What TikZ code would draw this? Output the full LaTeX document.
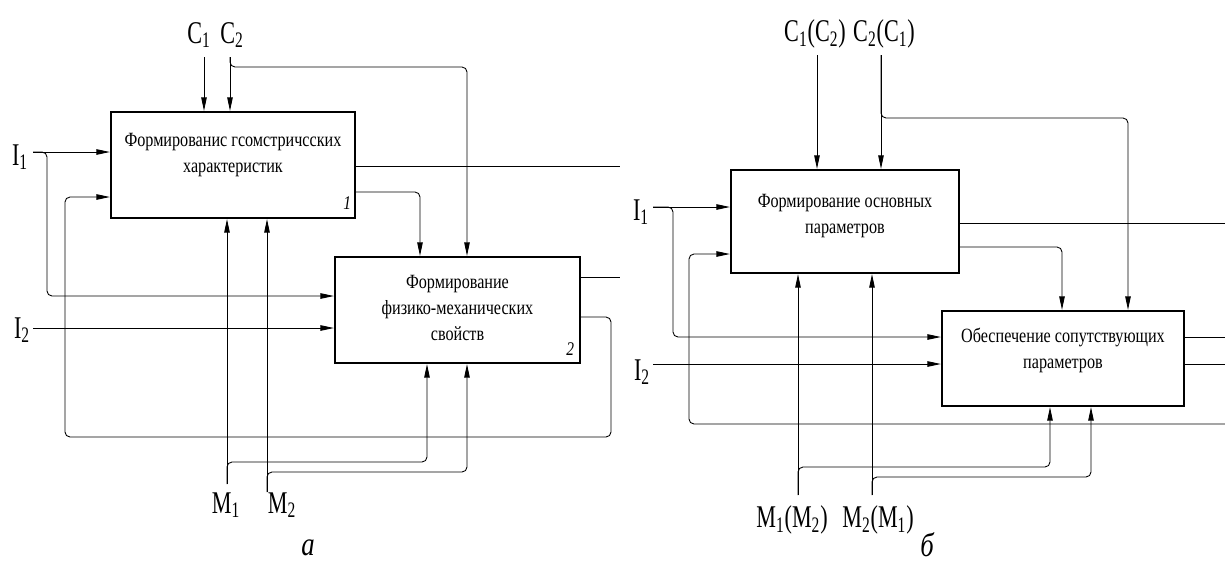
\documentclass[tikz,border=0pt]{standalone}
\usepackage{fontspec}
\setmainfont{Liberation Serif}[FakeStretch=0.8]
\newfontfamily\lblfont{Liberation Serif}[FakeStretch=0.7]
\usetikzlibrary{arrows.meta,calc}

\begin{document}
\begin{tikzpicture}[x=0.02cm,y=-0.02cm,
  blk/.style={draw=black,line width=1.3pt,inner sep=0pt},
  txt/.style={align=center,inner sep=0pt,font=\fontsize{11.5}{14.8}\selectfont},
  lbl/.style={inner sep=0pt,font=\lblfont\fontsize{18}{20}\selectfont},
  num/.style={inner sep=0pt,font=\itshape\fontsize{11}{12}\selectfont},
  figcap/.style={inner sep=0pt,font=\itshape\fontsize{19}{21}\selectfont},
  line/.style={draw=black,line width=0.5pt,rounded corners=0.1cm},
  arr/.style={-{Triangle[length=2.7mm,width=1.1mm]}}]
\useasboundingbox (0,0) rectangle (1225,566);

% a
\node[blk,minimum width=4.88cm,minimum height=2.12cm] (b1) at (233,165) {};
\node[txt] (t1) at ($(b1.center)+(0,-10)$) {Формированис гсомстричсских\\характеристик};
\node[num] (n1) at ($(b1.south east)+(-9,-16)$) {1};
\node[blk,minimum width=4.9cm,minimum height=2.12cm] (b2) at (457.5,310) {};
\node[txt] (t2) at ($(b2.center)+(0,-2)$) {Формирование\\физико-механических\\свойств};
\node[num] (n2) at ($(b2.south east)+(-11,-15)$) {2};

\node[lbl] (C1) at (199,35) {C\textsubscript{1}};
\node[lbl] (C2) at (232,35) {C\textsubscript{2}};
\node[lbl] (I1) at (20,157) {I\textsubscript{1}};
\node[lbl] (I2) at (22,330) {I\textsubscript{2}};
\node[lbl] (M1) at (226,505) {M\textsubscript{1}};
\node[lbl] (M2) at (282,505) {M\textsubscript{2}};
\node[figcap] (ca) at (308,548) {а};

\coordinate (c1) at (204,57);
\coordinate (c2) at (230,57);
\coordinate (i1) at (33,152);
\coordinate (i2) at (33,328);
\coordinate (m1) at (227,484);
\coordinate (m2) at (267,492);
\coordinate (o1) at (620,166);
\coordinate (o2) at (620,277);

\draw[line,arr] (c1) -- (c1 |- b1.north);
\draw[line,arr] (c2) -- (c2 |- b1.north);
\draw[line,arr] (c2) |- (467,67) -- (467,67 |- b2.north);
\draw[line,arr] (i1) -- (i1 -| b1.west);
\draw[line,arr] (i1) -| (47,296) -- (b2.west |- 47,296);
\draw[line] (b1.east |- o1) -- (o1);
\draw[line,arr] (b1.east |- 0,192) -| (b2.north -| 420,0);
\draw[line] (b2.east |- o2) -- (o2);
\draw[line,arr] (b2.east |- 0,317) -| (611,437) -| (65,197) -- (b1.west |- 0,197);
\draw[line,arr] (i2) -- (i2 -| b2.west);
\draw[line,arr] (m1) -- (m1 |- b1.south);
\draw[line,arr] (m1) |- (427,462) -- (427,462 |- b2.south);
\draw[line,arr] (m2) -- (m2 |- b1.south);
\draw[line,arr] (m2) |- (467,472) -- (467,472 |- b2.south);

% b
\node[blk,minimum width=4.56cm,minimum height=2.06cm] (bA) at (845,221.5) {};
\node[txt] (tA) at ($(bA.center)+(0,-5)$) {Формирование основных\\параметров};
\node[blk,minimum width=4.84cm,minimum height=1.9cm] (bB) at (1063,358.5) {};
\node[txt] (tB) at ($(bB.center)+(0,-8)$) {Обеспечение сопутствующих\\параметров};

\node[lbl] (C1r) at (815,34) {C\textsubscript{1}(C\textsubscript{2})};
\node[lbl] (C2r) at (884,34) {C\textsubscript{2}(C\textsubscript{1})};
\node[lbl] (I1r) at (641,212) {I\textsubscript{1}};
\node[lbl] (I2r) at (642,372) {I\textsubscript{2}};
\node[lbl] (M1r) at (792,520) {M\textsubscript{1}(M\textsubscript{2})};
\node[lbl] (M2r) at (878,520) {M\textsubscript{2}(M\textsubscript{1})};
\node[figcap] (cb) at (927,545) {б};

\coordinate (c1r) at (817,55);
\coordinate (c2r) at (881,55);
\coordinate (i1r) at (653,207);
\coordinate (i2r) at (653,364);
\coordinate (m1r) at (798,495);
\coordinate (m2r) at (872,495);
\coordinate (oA) at (1225,223);
\coordinate (oB1) at (1225,337);
\coordinate (oB2) at (1225,364);
\coordinate (fb) at (1225,424);

\draw[line,arr] (c1r) -- (c1r |- bA.north);
\draw[line,arr] (c2r) -- (c2r |- bA.north);
\draw[line,arr] (c2r) |- (1128,118) -- (1128,118 |- bB.north);
\draw[line,arr] (i1r) -- (i1r -| bA.west);
\draw[line,arr] (i1r) -| (673,337) -- (bB.west |- 673,337);
\draw[line] (bA.east |- oA) -- (oA);
\draw[line,arr] (bA.east |- 0,247) -| (bB.north -| 1062,0);
\draw[line,arr] (fb) -| (689,254) -- (bA.west |- 0,254);
\draw[line] (bB.east |- oB1) -- (oB1);
\draw[line] (bB.east |- oB2) -- (oB2);
\draw[line,arr] (i2r) -- (i2r -| bB.west);
\draw[line,arr] (m1r) -- (m1r |- bA.south);
\draw[line,arr] (m1r) |- (1050,467) -- (1050,467 |- bB.south);
\draw[line,arr] (m2r) -- (m2r |- bA.south);
\draw[line,arr] (m2r) |- (1091,477) -- (1091,477 |- bB.south);
\end{tikzpicture}
\end{document}
